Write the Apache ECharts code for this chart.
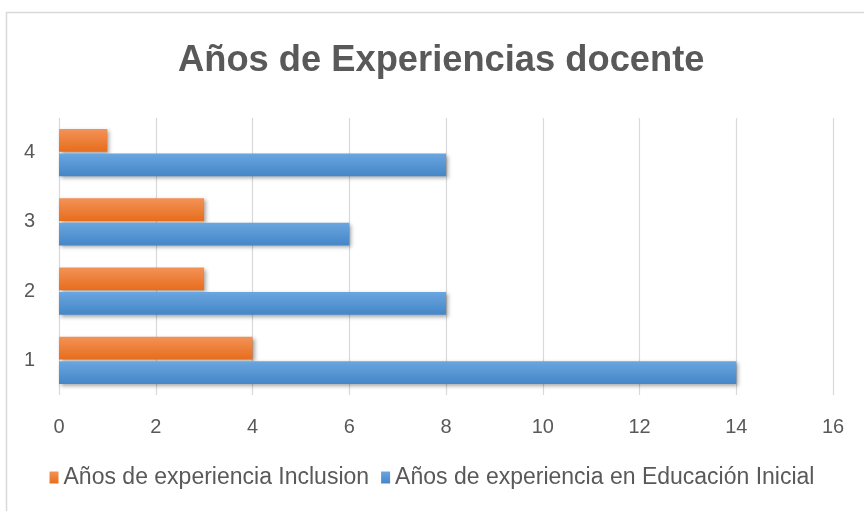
<!DOCTYPE html>
<html><head><meta charset="utf-8">
<script src="https://cdn.jsdelivr.net/npm/echarts@6/dist/echarts.min.js"></script>
<style>html,body{margin:0;padding:0;background:#fff}#c{width:864px;height:511px}</style>
</head><body><div id="c"></div>
<script>
const categories = ['1', '2', '3', '4'];
const inclusion = [4, 3, 3, 1];
const inicial = [14, 8, 6, 8];
const xTicks = [0, 2, 4, 6, 8, 10, 12, 14, 16];
const seriesNames = ['Años de experiencia Inclusion', 'Años de experiencia en Educación Inicial'];
const titleText = 'Años de Experiencias docente';

const FONT = '"Liberation Sans", Arial, sans-serif';
function grad(c1, c2) {
  return new echarts.graphic.LinearGradient(0, 0, 0, 1, [{offset: 0, color: c1}, {offset: 1, color: c2}]);
}
const chart = echarts.init(document.getElementById('c'), null, {renderer: 'canvas'});
chart.setOption({
  animation: false,
  backgroundColor: '#fff',
  graphic: [{type: 'rect', shape: {x: 6.5, y: 12.5, width: 900, height: 600}, style: {fill: 'none', stroke: '#d9d9d9', lineWidth: 1.5}, z: -1}],
  title: {text: titleText, left: 178, top: 43, padding: 0, textStyle: {fontFamily: FONT, fontWeight: 'bold', fontSize: 36.3, color: '#595959'}},
  legend: {
    data: seriesNames, bottom: 17, left: 'center', itemWidth: 9, itemHeight: 12, itemGap: 12, icon: 'rect',
    textStyle: {fontFamily: FONT, fontSize: 23, color: '#595959'}
  },
  grid: {left: 59, right: 31, top: 118, bottom: 116},
  xAxis: {
    type: 'value', min: xTicks[0], max: xTicks[xTicks.length - 1], interval: 2,
    axisLine: {show: false}, axisTick: {show: false},
    axisLabel: {fontFamily: FONT, fontSize: 20, color: '#595959', margin: 22},
    splitLine: {lineStyle: {color: '#d9d9d9', width: 1.2}}
  },
  yAxis: {
    type: 'category', data: categories,
    axisLine: {show: false}, axisTick: {show: false},
    axisLabel: {fontFamily: FONT, fontSize: 20, color: '#595959', margin: 24}
  },
  series: [
    {name: seriesNames[0], type: 'bar', data: inclusion, barCategoryGap: '32%', barGap: '8%',
     itemStyle: {color: grad('#f39257', '#e76d1c'), shadowColor: 'rgba(0,0,0,0.35)', shadowBlur: 4, shadowOffsetX: 2, shadowOffsetY: 2}},
    {name: seriesNames[1], type: 'bar', data: inicial, barCategoryGap: '32%', barGap: '8%',
     itemStyle: {color: grad('#6aa6df', '#4586c8'), shadowColor: 'rgba(0,0,0,0.35)', shadowBlur: 4, shadowOffsetX: 2, shadowOffsetY: 2}}
  ]
});
</script></body></html>
